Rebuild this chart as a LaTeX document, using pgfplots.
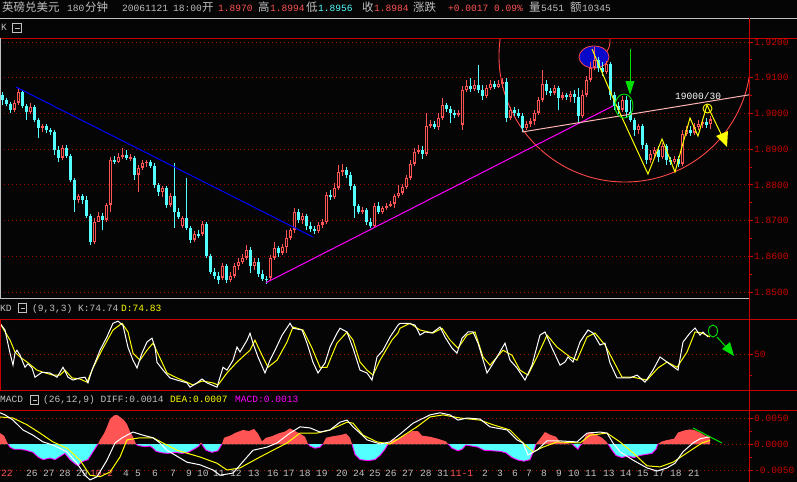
\documentclass[border=0pt]{standalone}
\usepackage{pgfplots}
\pgfplotsset{compat=1.18}
\usepackage{pgfplotstable}
\usepackage{fontspec}
\setmainfont{Liberation Mono}
\newfontfamily\mono{Liberation Mono}
\newfontfamily\cjk{Noto Sans CJK SC}
\newcommand\fm{\mono\fontsize{9.6}{10}\selectfont}
\newcommand\fc{\cjk\fontsize{11.5}{12}\selectfont}
\definecolor{bg}{HTML}{050505}
\definecolor{upred}{HTML}{FF5454}
\definecolor{dncyan}{HTML}{54FFFF}
\definecolor{axred}{HTML}{C80000}
\definecolor{gridred}{HTML}{A00000}
\definecolor{lgray}{HTML}{C0C0C0}
\definecolor{yel}{HTML}{FFFF00}
\definecolor{mag}{HTML}{FF00FF}
\definecolor{grn}{HTML}{00E000}
\definecolor{pinkl}{HTML}{FFB4B4}
\definecolor{tblue}{HTML}{0000FF}
\definecolor{eblue}{HTML}{0808C8}
\definecolor{circred}{HTML}{FF4848}
\newcommand\T[4]{\node[anchor=base west, inner sep=0pt, text=#3, font=#4] at (#1,#2)}

\pgfplotstableread{
x o h l c
2 1.9052 1.9060 1.9024 1.9038
6 1.9038 1.9044 1.9021 1.9027
10 1.9027 1.9032 1.9002 1.9010
14 1.9010 1.9038 1.9004 1.9030
18 1.9030 1.9072 1.9024 1.9060
22 1.9060 1.9066 1.9016 1.9021
26 1.9021 1.9027 1.8982 1.9004
30 1.9004 1.9030 1.8999 1.9018
34 1.9018 1.9024 1.8976 1.8982
38 1.8982 1.8988 1.8932 1.8960
42 1.8960 1.8971 1.8948 1.8965
46 1.8965 1.8971 1.8946 1.8954
50 1.8954 1.8960 1.8940 1.8948
54 1.8948 1.8954 1.8884 1.8898
58 1.8898 1.8909 1.8864 1.8876
62 1.8876 1.8912 1.8870 1.8904
66 1.8904 1.8912 1.8876 1.8881
70 1.8881 1.8887 1.8808 1.8814
74 1.8814 1.8820 1.8724 1.8758
78 1.8758 1.8775 1.8750 1.8769
82 1.8769 1.8775 1.8747 1.8758
86 1.8758 1.8769 1.8708 1.8713
90 1.8713 1.8719 1.8632 1.8640
94 1.8640 1.8708 1.8635 1.8696
98 1.8696 1.8724 1.8696 1.8713
102 1.8713 1.8722 1.8674 1.8702
106 1.8702 1.8750 1.8696 1.8744
110 1.8744 1.8878 1.8724 1.8870
114 1.8870 1.8881 1.8859 1.8864
118 1.8864 1.8890 1.8862 1.8878
122 1.8878 1.8904 1.8873 1.8884
126 1.8884 1.8898 1.8870 1.8876
130 1.8876 1.8887 1.8867 1.8877
134 1.8876 1.8881 1.8814 1.8828
138 1.8828 1.8856 1.8780 1.8848
142 1.8848 1.8870 1.8842 1.8862
146 1.8862 1.8870 1.8850 1.8864
150 1.8864 1.8870 1.8848 1.8853
154 1.8853 1.8862 1.8792 1.8800
158 1.8800 1.8806 1.8769 1.8780
162 1.8780 1.8797 1.8766 1.8792
166 1.8792 1.8797 1.8736 1.8744
170 1.8744 1.8778 1.8738 1.8769
174 1.8769 1.8862 1.8680 1.8724
178 1.8724 1.8736 1.8705 1.8710
182 1.8685 1.8713 1.8680 1.8708
186 1.8708 1.8820 1.8674 1.8680
190 1.8680 1.8685 1.8638 1.8646
194 1.8646 1.8671 1.8640 1.8663
198 1.8663 1.8674 1.8652 1.8657
202 1.8663 1.8699 1.8657 1.8691
206 1.8691 1.8696 1.8596 1.8601
210 1.8601 1.8607 1.8551 1.8556
214 1.8556 1.8568 1.8537 1.8545
218 1.8545 1.8556 1.8523 1.8534
222 1.8540 1.8582 1.8534 1.8573
226 1.8573 1.8579 1.8526 1.8534
230 1.8534 1.8556 1.8528 1.8545
234 1.8545 1.8582 1.8540 1.8573
238 1.8573 1.8596 1.8562 1.8584
242 1.8584 1.8607 1.8579 1.8596
246 1.8596 1.8632 1.8590 1.8618
250 1.8618 1.8626 1.8554 1.8573
254 1.8573 1.8596 1.8562 1.8584
258 1.8584 1.8596 1.8542 1.8551
262 1.8551 1.8562 1.8531 1.8537
266 1.8537 1.8545 1.8523 1.8534
270 1.8540 1.8604 1.8534 1.8596
274 1.8596 1.8640 1.8590 1.8624
278 1.8624 1.8629 1.8599 1.8610
282 1.8610 1.8635 1.8604 1.8626
286 1.8626 1.8674 1.8610 1.8652
290 1.8652 1.8680 1.8646 1.8674
294 1.8674 1.8736 1.8666 1.8724
298 1.8724 1.8733 1.8694 1.8702
302 1.8702 1.8722 1.8691 1.8713
306 1.8713 1.8719 1.8674 1.8685
310 1.8685 1.8696 1.8668 1.8677
314 1.8677 1.8685 1.8663 1.8671
318 1.8671 1.8696 1.8666 1.8688
322 1.8688 1.8705 1.8680 1.8696
326 1.8696 1.8780 1.8691 1.8772
330 1.8772 1.8786 1.8758 1.8766
334 1.8766 1.8806 1.8761 1.8792
338 1.8792 1.8856 1.8786 1.8836
342 1.8836 1.8859 1.8825 1.8842
346 1.8842 1.8850 1.8820 1.8828
350 1.8828 1.8836 1.8786 1.8797
354 1.8797 1.8803 1.8708 1.8741
358 1.8741 1.8747 1.8719 1.8724
362 1.8724 1.8738 1.8719 1.8730
366 1.8730 1.8736 1.8688 1.8696
370 1.8696 1.8708 1.8680 1.8685
374 1.8685 1.8750 1.8680 1.8741
378 1.8741 1.8752 1.8719 1.8724
382 1.8724 1.8741 1.8719 1.8736
386 1.8736 1.8750 1.8730 1.8741
390 1.8741 1.8755 1.8738 1.8747
394 1.8747 1.8775 1.8736 1.8769
398 1.8769 1.8800 1.8764 1.8778
402 1.8778 1.8803 1.8772 1.8794
406 1.8794 1.8828 1.8789 1.8820
410 1.8820 1.8870 1.8814 1.8859
414 1.8859 1.8904 1.8853 1.8893
418 1.8893 1.8912 1.8887 1.8898
422 1.8898 1.8909 1.8873 1.8887
426 1.8887 1.9002 1.8881 1.8965
430 1.8965 1.8982 1.8960 1.8971
434 1.8971 1.8979 1.8957 1.8962
438 1.8962 1.9002 1.8954 1.8988
442 1.8988 1.9044 1.8982 1.9024
446 1.9024 1.9030 1.9004 1.9013
450 1.9013 1.9021 1.8974 1.9002
454 1.9002 1.9010 1.8988 1.8996
458 1.8996 1.9010 1.8990 1.9002
462 1.8968 1.9077 1.8954 1.9066
466 1.9066 1.9094 1.9060 1.9077
470 1.9077 1.9100 1.9060 1.9069
474 1.9069 1.9094 1.9063 1.9080
478 1.9080 1.9136 1.9058 1.9066
482 1.9066 1.9080 1.9038 1.9049
486 1.9049 1.9080 1.9044 1.9072
490 1.9072 1.9094 1.9066 1.9083
494 1.9083 1.9091 1.9069 1.9074
498 1.9074 1.9094 1.9072 1.9083
502 1.9083 1.9100 1.9072 1.9088
506 1.9088 1.9100 1.8976 1.8988
510 1.8988 1.9018 1.8982 1.9010
514 1.9010 1.9018 1.8993 1.9002
518 1.9002 1.9013 1.8988 1.8993
522 1.8993 1.9002 1.8948 1.8960
526 1.8960 1.8979 1.8954 1.8971
530 1.8971 1.8988 1.8962 1.8979
534 1.8979 1.9010 1.8968 1.9002
538 1.9002 1.9046 1.8996 1.9038
542 1.9038 1.9122 1.9032 1.9083
546 1.9083 1.9094 1.9052 1.9063
550 1.9063 1.9072 1.9049 1.9058
554 1.9058 1.9080 1.9052 1.9072
558 1.9072 1.9077 1.9010 1.9044
562 1.9044 1.9060 1.9038 1.9052
566 1.9052 1.9058 1.9038 1.9046
570 1.9046 1.9063 1.9032 1.9055
574 1.9055 1.9066 1.9030 1.9046
578 1.9046 1.9072 1.8974 1.8993
582 1.8993 1.9066 1.8988 1.9052
586 1.9052 1.9105 1.9046 1.9094
590 1.9094 1.9144 1.9088 1.9128
594 1.9128 1.9186 1.9122 1.9150
598 1.9150 1.9158 1.9116 1.9128
602 1.9128 1.9144 1.9105 1.9116
606 1.9116 1.9147 1.9111 1.9139
610 1.9139 1.9144 1.9038 1.9052
614 1.9052 1.9060 1.9010 1.9021
618 1.9021 1.9032 1.8999 1.9010
622 1.9010 1.9049 1.9004 1.9038
626 1.9038 1.9049 1.8988 1.9004
630 1.9004 1.9038 1.8976 1.8982
634 1.8982 1.8988 1.8937 1.8954
638 1.8954 1.8971 1.8943 1.8965
642 1.8965 1.8971 1.8901 1.8912
646 1.8912 1.8918 1.8859 1.8870
650 1.8870 1.8898 1.8862 1.8887
654 1.8887 1.8907 1.8878 1.8898
658 1.8898 1.8909 1.8864 1.8878
662 1.8878 1.8918 1.8873 1.8909
666 1.8909 1.8915 1.8856 1.8870
670 1.8870 1.8878 1.8856 1.8864
674 1.8864 1.8881 1.8859 1.8873
678 1.8873 1.8881 1.8850 1.8859
682 1.8859 1.8954 1.8853 1.8943
686 1.8943 1.8965 1.8937 1.8954
690 1.8954 1.8965 1.8937 1.8946
694 1.8946 1.8974 1.8940 1.8962
698 1.8962 1.8982 1.8954 1.8971
702 1.8971 1.8985 1.8960 1.8976
706 1.8976 1.8988 1.8960 1.8968
710 1.8970 1.8994 1.8956 1.8984
}\candles

\pgfplotstableread{
x v
0 94
5 84.5
10 52
13 35
15 52
17 56
20 49
25 32
28 37
32 31
35 18
38 21
42 25
50 24
57 18
63 32
68 18
73 14
80 17
85 18
88 10
92 28
100 56
107 75
113 94
118 97
123 91
128 60
133 42
137 31
142 52
147 67.6
152 73
155 60.5
157 39
163 28
170 17
177 14
187 10
190 4
197 10
202 15.5
207 10
217 4
223 32
227 28
233 42
237 60.5
240 53.5
247 70
250 80
253 66
258 46.5
265 24
270 42
275 56
282 77
290 94
293 87
302 84.5
307 66
313 39
318 24
325 38
330 60.5
337 80
340 87
347 81.7
353 59
360 28
367 24
372 14
377 46.5
383 56
390 74.6
398 91.5
400 94
408 94
415 91.5
420 77.4
425 81.7
432 80.3
440 88.7
445 74.6
452 59
457 52
462 73
468 81.7
473 81.7
478 66
487 24
492 35
498 49
505 66
510 42
517 31
525 14
532 35
540 77.4
545 81.7
552 59
560 35
565 39.4
568 46.5
573 39.4
580 67.6
588 84.5
593 80.3
600 63.4
605 66
610 38
617 17
623 17
630 17
637 21
645 11
653 28
660 46.5
667 39.4
675 31
678 28
683 67.6
690 80.3
695 87.3
700 77.4
703 81.7
708 74.7
}\kline

\pgfplotstableread{
x v
0 94
10 70.4
15 53.5
20 46.5
27 39.4
37 28
43 25
53 21
60 21
65 28
72 17
80 15.5
87 11
93 31
103 59
113 84.5
122 94
128 81.7
133 52
140 42
147 56
153 66
160 45
167 24
177 17
187 11
193 7
202 12.7
213 10
218 7
227 24
237 39.4
250 56
255 70
262 49
268 32
277 42
287 67.6
293 88.7
303 84.5
312 59
320 32
327 32
337 66
347 81.7
353 70.4
360 39.4
367 28
373 21
380 42
392 70.4
398 80.3
400 87
410 94
420 84.5
433 80.3
442 87
450 70.4
458 59
467 77.4
475 81.7
483 46.5
490 35
503 56
512 49
520 28
528 21
537 46.5
547 77.4
557 60.5
570 46.5
577 42
587 74.6
595 80.3
605 63.4
613 42
622 18
633 18
647 14
658 31
667 39.4
677 32
687 53.5
695 81.7
702 80.3
710 74.8
}\dline

\pgfplotstableread{
x v
0 0.0021
4 0.0016
8 0
10 -0.0006
14 -0.0010
20 -0.0010
26 -0.0012
33 -0.0016
38 -0.0025
43 -0.0030
50 -0.0027
55 -0.0030
60 -0.0024
65 -0.0018
70 -0.0030
75 -0.0038
78 -0.0042
82 -0.0034
88 -0.0030
92 -0.0018
96 -0.0006
98 0
100 0.0008
104 0.0020
107 0.0033
110 0.0048
114 0.0055
117 0.0056
120 0.0052
124 0.0046
127 0.0038
130 0.0024
133 0.0014
136 0
138 -0.0003
145 -0.0005
150 -0.0004
153 -0.0008
156 -0.0014
162 -0.0017
168 -0.0018
175 -0.0016
182 -0.0018
188 -0.0016
194 -0.0010
199 -0.0004
200 0
201 0.0003
202 0
203 -0.0004
206 -0.0012
212 -0.0016
218 -0.0013
222 0
224 0.0012
230 0.0016
236 0.0022
243 0.0027
249 0.0025
254 0.0029
258 0.0020
262 0.0005
266 0.0012
272 0.0015
278 0.0020
285 0.0024
290 0.0030
294 0.0026
300 0.0020
305 0.0014
308 0
310 -0.0004
315 -0.0008
320 -0.0006
323 0
326 0.0012
333 0.0015
340 0.0017
346 0.0020
350 0.0012
352 0
355 -0.0020
360 -0.0030
368 -0.0032
375 -0.0030
380 -0.0022
385 -0.0010
388 0
392 0.0008
398 0.0010
402 0.0015
408 0.0020
412 0.0025
418 0.0025
422 0.0016
430 0.0014
438 0.0010
446 0.0005
448 0
452 -0.0008
458 -0.0013
462 -0.0010
466 -0.0002
472 -0.0004
478 -0.0006
484 -0.0012
492 -0.0013
500 -0.0014
506 -0.0017
512 -0.0026
518 -0.0031
524 -0.0033
530 -0.0030
534 -0.0012
536 0
540 0.0010
545 0.0023
550 0.0018
556 0.0014
560 0.0004
566 0.0002
572 0
575 -0.0005
578 -0.0010
580 -0.0003
582 0
586 0.0018
590 0.0023
596 0.0018
602 0.0012
606 0.0005
608 0
612 -0.0012
616 -0.0022
622 -0.0026
628 -0.0023
634 -0.0026
640 -0.0022
646 -0.0020
652 -0.0018
656 -0.0010
658 0
662 0.0005
668 0.0008
674 0.0010
678 0.0022
684 0.0026
690 0.0028
694 0.0027
700 0.0022
705 0.0016
710 0.0013
}\hist

\pgfplotstableread{
x v
0 0.0060
5 0.0056
13 0.0046
23 0.0027
33 0.0017
43 0.0004
53 -0.0002
67 -0.0015
77 -0.0037
85 -0.0060
90 -0.0069
97 -0.0063
107 -0.0031
115 0.0002
123 0.0013
133 0.0023
143 0.0017
153 0.0012
160 0.0002
167 -0.0012
187 -0.0035
200 -0.0040
213 -0.0050
220 -0.0060
233 -0.0056
247 -0.0025
253 -0.0012
267 -0.0006
277 0.0002
290 0.0021
300 0.0033
310 0.0031
320 0.0023
330 0.0027
340 0.0042
347 0.0046
353 0.0033
360 0.0021
367 0.0008
380 0.0000
390 0.0004
400 0.0019
413 0.0040
430 0.0056
440 0.0060
450 0.0056
458 0.0046
467 0.0050
480 0.0048
490 0.0033
507 0.0027
517 0.0008
523 0.0002
528 -0.0021
537 -0.0012
547 0.0006
560 0.0006
577 0.0004
587 0.0021
600 0.0023
607 0.0021
613 0.0002
620 -0.0015
633 -0.0031
647 -0.0046
657 -0.0052
667 -0.0046
675 -0.0037
683 -0.0015
693 0.0002
700 0.0010
710 0.0014
}\diff

\pgfplotstableread{
x v
0 0.0052
13 0.0050
27 0.0037
40 0.0021
53 0.0004
67 -0.0008
80 -0.0031
90 -0.0060
100 -0.0063
110 -0.0054
120 -0.0025
127 0.0008
140 0.0012
153 0.0012
163 0.0002
177 -0.0012
200 -0.0025
217 -0.0037
227 -0.0050
240 -0.0046
260 -0.0025
273 -0.0012
287 0.0002
300 0.0021
317 0.0021
330 0.0027
347 0.0042
353 0.0040
363 0.0017
377 0.0004
390 0.0000
400 0.0012
417 0.0033
430 0.0052
443 0.0056
460 0.0050
480 0.0046
493 0.0037
510 0.0027
523 0.0002
533 -0.0015
543 -0.0006
557 0.0004
580 0.0002
590 0.0017
607 0.0021
620 0.0004
633 -0.0017
647 -0.0042
660 -0.0044
673 -0.0035
687 -0.0017
702 0.0002
710 0.0007
}\dea

\pgfplotsset{
 panel/.style={
  scale only axis, width=749bp, xmin=0, xmax=749,
  anchor=north west,
  axis line style={draw=none},
  xtick=\empty,
  ytick pos=right, yticklabel pos=right,
  tick align=outside,
  scaled y ticks=false,
  major tick length=4bp, minor tick length=2.5bp,
  tick style={axred, line width=0.9bp},
  yticklabel style={font=\fm, text=axred, inner sep=0pt, xshift=1bp},
  ymajorgrids,
  major grid style={gridred, line width=0.9bp, dash pattern=on 0.9bp off 3.1bp},
  clip=true,
 },
 wick/.style={draw=none, mark=none, forget plot,
  error bars/.cd, y dir=both, y explicit, error mark=none,
  error bar style={draw=#1, line width=0.9bp, solid}},
 body/.style 2 args={draw=none, mark=none, forget plot,
  error bars/.cd, y dir=both, y explicit, error mark=none,
  error bar style={draw=#1, line width=#2, solid}},
}

\begin{document}
\begin{tikzpicture}
\begin{scope}[x=1bp,y=-1bp]
\fill[bg] (0,0) rectangle (797,482);

% header
\T{2}{11}{lgray}{\fc}{英磅兑美元};
\T{67}{11}{lgray}{\fm}{180};
\T{85}{11}{lgray}{\fc}{分钟};
\T{122}{11}{lgray}{\fm}{20061121};
\T{173}{11}{lgray}{\fm}{18:00};
\T{202}{11}{lgray}{\fc}{开};
\T{218}{11}{upred}{\fm}{1.8970};
\T{258}{11}{lgray}{\fc}{高};
\T{270}{11}{upred}{\fm}{1.8994};
\T{306}{11}{lgray}{\fc}{低};
\T{318}{11}{dncyan}{\fm}{1.8956};
\T{362}{11}{lgray}{\fc}{收};
\T{374}{11}{upred}{\fm}{1.8984};
\T{413}{11}{lgray}{\fc}{涨跌};
\T{448}{11}{upred}{\fm}{+0.0017 0.09\%};
\T{529}{11}{lgray}{\fc}{量};
\T{541}{11}{lgray}{\fm}{5451};
\T{570}{11}{lgray}{\fc}{额};
\T{582}{11}{lgray}{\fm}{10345};

% behind-candle annotations
\begin{scope}
\clip (0,38) rectangle (749,297);
\draw[circred, line width=0.9bp] (625,56) circle (126);
\draw[circred, line width=0.9bp] (610,38) .. controls (610,46) .. (606,53);
\fill[eblue] (594,57) ellipse (15 and 11);
\draw[circred, line width=0.8bp] (594,57) ellipse (15 and 11);
\end{scope}
\end{scope}

% main price panel
\begin{axis}[panel, at={(0bp,-38bp)}, height=259bp,
  ymin=1.8486, ymax=1.92112,
  ytick={1.85,1.86,1.87,1.88,1.89,1.90,1.91,1.92},
  yticklabels={1.8500,1.8600,1.8700,1.8800,1.8900,1.9000,1.9100,1.9200},
  minor ytick={1.855,1.865,1.875,1.885,1.895,1.905,1.915}]
\addplot[wick=upred] table[x=x, y expr={\thisrow{c}>\thisrow{o} ? (\thisrow{h}+\thisrow{l})/2 : nan}, y error expr={(\thisrow{h}-\thisrow{l})/2}] {\candles};
\addplot[wick=dncyan] table[x=x, y expr={\thisrow{c}>\thisrow{o} ? nan : (\thisrow{h}+\thisrow{l})/2}, y error expr={(\thisrow{h}-\thisrow{l})/2}] {\candles};
\addplot[body={upred}{3bp}] table[x=x, y expr={\thisrow{c}>\thisrow{o} ? (\thisrow{o}+\thisrow{c})/2 : nan}, y error expr={max(abs(\thisrow{o}-\thisrow{c})/2,0.00008)}] {\candles};
\addplot[body={bg}{0.6bp}] table[x=x, y expr={\thisrow{c}>\thisrow{o} ? (\thisrow{o}+\thisrow{c})/2 : nan}, y error expr={max(abs(\thisrow{o}-\thisrow{c})/2-0.0004,0)}] {\candles};
\addplot[body={dncyan}{3bp}] table[x=x, y expr={\thisrow{c}>\thisrow{o} ? nan : (\thisrow{o}+\thisrow{c})/2}, y error expr={max(abs(\thisrow{o}-\thisrow{c})/2,0.00008)}] {\candles};
\addplot[tblue, line width=1bp] coordinates {(16,1.9074) (313,1.8654)};
\addplot[mag, line width=1bp] coordinates {(266,1.8526) (613,1.9021)};
\addplot[pinkl, line width=1bp] coordinates {(522,1.8948) (749,1.9052)};
\end{axis}

% KD panel
\begin{axis}[panel, at={(0bp,-319bp)}, height=71bp,
  ymin=0, ymax=100, ytick={50}, yticklabels={50}, minor ytick={20}]
\addplot[yel, line width=1bp] table[x=x, y=v] {\dline};
\addplot[white, line width=1bp] table[x=x, y=v] {\kline};
\end{axis}

% MACD panel
\begin{axis}[panel, at={(0bp,-410bp)}, height=72bp,
  ymin=-0.00731, ymax=0.00654,
  ytick={-0.005,0,0.005}, yticklabels={-0.0050,0.0000,0.0050},
  minor ytick={-0.0025,0.0025},
  xtick={1,26,43,59,76,90,123,135,152,170,186,197,213,230,248,267,283,299,316,336,353,369,385,402,420,437,450,482,497,512,526,541,556,568,585,603,620,637,653,670,688},
  xticklabels={\textcolor{upred}{22},26,27,28,29,\textcolor{upred}{10-2},4,5,6,7,9,10,11,12,13,16,17,18,19,20,24,25,26,27,28,31,\textcolor{upred}{11-1},2,3,6,7,8,9,10,11,13,14,15,17,18,21},
  xtick style={draw=none},
  xticklabel style={anchor=base west, inner sep=0pt, font=\fm, text=lgray, yshift=10bp},
  unbounded coords=jump]
\addplot[fill=upred, draw=none] table[x=x, y expr={max(\thisrow{v},0)}] {\hist} \closedcycle;
\addplot[fill=dncyan, draw=none] table[x=x, y expr={min(\thisrow{v},0)}] {\hist} \closedcycle;
\addplot[mag, line width=0.9bp] table[x=x, y expr={\thisrow{v}>0 ? nan : \thisrow{v}}] {\hist};
\addplot[yel, line width=1bp] table[x=x, y=v] {\dea};
\addplot[white, line width=1bp] table[x=x, y=v] {\diff};
\end{axis}

\begin{scope}[x=1bp,y=-1bp]
% overlay annotations in main panel
\draw[yel, line width=1bp] (592,49) -- (613,98) -- (648,174) -- (662,139) -- (675,172) -- (690,118) -- (698,136) -- (707,105) -- (722,136);
\fill[yel] (727,147) -- (716,136) -- (728,131) -- cycle;
\draw[yel, line width=0.9bp] (707.5,108.5) circle (4.5);
\draw[grn, line width=1bp] (630,49) -- (630,84);
\fill[grn] (625.5,81) -- (634.5,81) -- (630,95) -- cycle;
\draw[grn, line width=0.9bp] (624,106) ellipse (9 and 12);
\T{675}{99}{white}{\fm}{19000/30};

% frame lines
\draw[lgray, line width=1bp] (0,18) -- (797,18);
\draw[axred, line width=1bp] (0,38) -- (797,38);
\draw[lgray, line width=1bp] (0,298) -- (749,298);
\draw[lgray, line width=1bp] (0.5,38) -- (0.5,298);
\draw[axred, line width=1bp] (0,319) -- (797,319);
\draw[axred, line width=1bp] (0,390) -- (797,390);
\draw[axred, line width=1bp] (0,410) -- (797,410);
\draw[axred, line width=1bp] (0.5,319) -- (0.5,390);
\draw[axred, line width=1bp] (749,18) -- (749,482);

% panel headers
\T{1}{30}{lgray}{\fm}{K};
\draw[lgray, line width=0.8bp] (12.5,23.5) rectangle (21.5,32.5);
\draw[lgray, line width=0.8bp] (14.5,28) -- (19.5,28);
\T{0}{311}{lgray}{\fm}{KD};
\draw[lgray, line width=0.8bp] (18.5,303.5) rectangle (26.5,312.5);
\draw[lgray, line width=0.8bp] (20.5,308) -- (24.5,308);
\T{32}{311}{lgray}{\fm}{(9,3,3) K:74.74};
\T{121}{311}{yel}{\fm}{D:74.83};
\T{0}{402}{lgray}{\fm}{MACD};
\draw[lgray, line width=0.8bp] (30.5,395.5) rectangle (38.5,404.5);
\draw[lgray, line width=0.8bp] (32.5,400) -- (36.5,400);
\T{43}{402}{lgray}{\fm}{(26,12,9) DIFF:0.0014};
\T{170}{402}{yel}{\fm}{DEA:0.0007};
\T{235}{402}{mag}{\fm}{MACD:0.0013};

% KD / MACD annotations
\draw[grn, line width=0.9bp] (713,331) ellipse (4.5 and 6);
\draw[grn, line width=1bp] (717,337) -- (727,348);
\fill[grn] (722,349) -- (730,342) -- (734,356) -- cycle;
\draw[grn, line width=1bp] (693,428) -- (722,443);
\end{scope}

\pgfresetboundingbox
\useasboundingbox (0bp,0bp) rectangle (797bp,-482bp);
\end{tikzpicture}
\end{document}
